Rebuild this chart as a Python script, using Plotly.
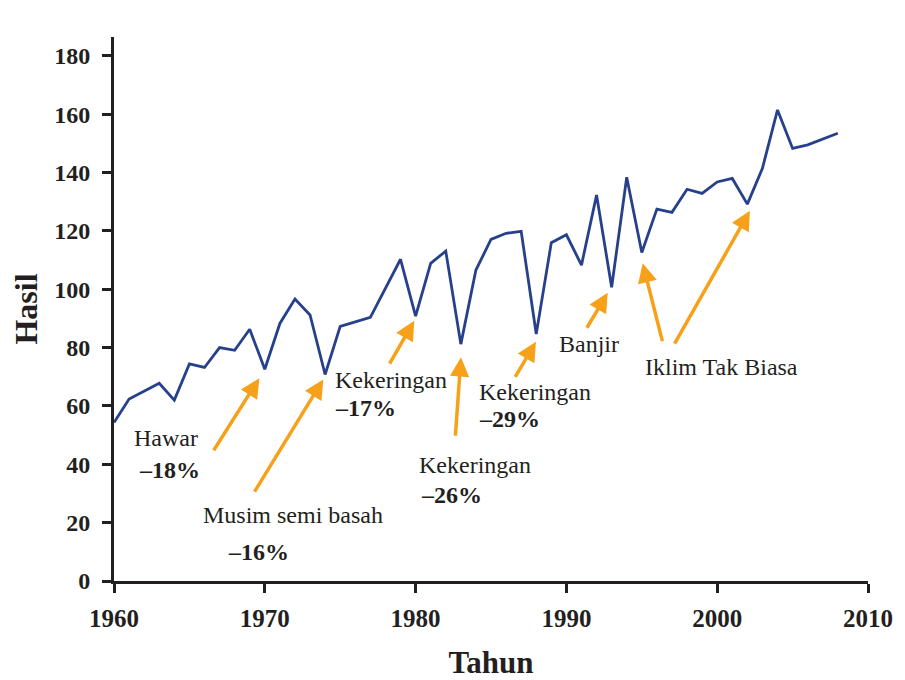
import plotly.graph_objects as go

# hasil per tahun
years = [1960, 1961, 1963, 1964, 1965, 1966, 1967, 1968, 1969, 1970,
         1971, 1972, 1973, 1974, 1975, 1977, 1979, 1980, 1981, 1982,
         1983, 1984, 1985, 1986, 1987, 1988, 1989, 1990, 1991, 1992,
         1993, 1994, 1995, 1996, 1997, 1998, 1999, 2000, 2001, 2002,
         2003, 2004, 2005, 2006, 2008]
yields = [54.3, 62.4, 67.8, 62.0, 74.4, 73.2, 80.0, 79.1, 86.3, 72.6,
          88.3, 96.7, 91.2, 70.8, 87.3, 90.4, 110.3, 90.8, 108.9, 113.1,
          81.2, 106.6, 117.1, 119.2, 119.9, 84.7, 116.0, 118.7, 108.3, 132.3,
          100.7, 138.4, 112.6, 127.5, 126.4, 134.3, 132.9, 136.8, 138.0, 129.2,
          141.5, 161.5, 148.3, 149.5, 153.5]

x_ticks = [1960, 1970, 1980, 1990, 2000, 2010]
y_ticks = [0, 20, 40, 60, 80, 100, 120, 140, 160, 180]

# label peristiwa: (teks, persen)
labels = [
    ('Hawar', '–18%'),
    ('Musim semi basah', '–16%'),
    ('Kekeringan', '–17%'),
    ('Kekeringan', '–26%'),
    ('Kekeringan', '–29%'),
    ('Banjir', None),
    ('Iklim Tak Biasa', None),
]
# posisi teks (tahun, nilai) untuk baris pertama dan kedua
label_pos = [
    ((1961.2, 49.0), (1961.5, 38.1)),
    ((1965.8, 22.6), (1967.4, 9.8)),
    ((1974.5, 68.9), (1974.5, 59.3)),
    ((1980.1, 39.8), (1980.2, 29.5)),
    ((1984.1, 64.9), (1984.1, 55.6)),
    ((1989.4, 81.1), None),
    ((1995.1, 73.5), None),
]
# panah: (ekor tahun, ekor nilai, kepala tahun, kepala nilai)
arrows = [
    (1966.55, 44.3, 1969.64, 69.5),
    (1969.26, 30.1, 1973.88, 69.1),
    (1978.22, 74.0, 1979.91, 89.2),
    (1982.63, 49.3, 1983.01, 76.7),
    (1986.55, 69.5, 1987.98, 82.0),
    (1991.30, 86.3, 1992.74, 98.8),
    (1996.39, 81.7, 1995.06, 108.9),
    (1997.12, 80.9, 2002.17, 126.9),
]

SERIF = 'Liberation Serif'
INK = '#231f20'
ORANGE = '#F7A11A'

fig = go.Figure()
fig.add_trace(go.Scatter(
    x=years, y=yields, mode='lines',
    line=dict(color='#27408B', width=2.8),
    hoverinfo='skip', showlegend=False))

for (name, pct), (p1, p2) in zip(labels, label_pos):
    fig.add_annotation(x=p1[0], y=p1[1], text=name, showarrow=False,
                       xanchor='left', yanchor='middle',
                       font=dict(family=SERIF, size=24, color=INK))
    if pct:
        fig.add_annotation(x=p2[0], y=p2[1], text='<b>' + pct + '</b>',
                           showarrow=False, xanchor='left', yanchor='middle',
                           font=dict(family=SERIF, size=24, color=INK))

for tx, ty, hx, hy in arrows:
    fig.add_annotation(x=hx, y=hy, ax=tx, ay=ty, xref='x', yref='y',
                       axref='x', ayref='y', text='', showarrow=True,
                       arrowhead=2, arrowsize=1.1, arrowwidth=3.5,
                       arrowcolor=ORANGE, standoff=0, startstandoff=0)

# body halaman punya margin 8 px, dikompensasi di sini
fig.update_layout(
    width=897, height=672,
    margin=dict(l=106, r=37, t=29, b=99),
    plot_bgcolor='white', paper_bgcolor='white',
    font=dict(family=SERIF, color=INK),
)
fig.update_xaxes(
    range=[1960, 2010], tickvals=x_ticks, showgrid=False, zeroline=False,
    showline=True, linecolor=INK, linewidth=3, automargin=False,
    ticks='outside', ticklen=9, tickwidth=3, tickcolor=INK,
    ticklabelstandoff=4,
    tickfont=dict(family=SERIF, size=25, color=INK, weight='bold'),
    title=dict(text='<b>Tahun</b>', standoff=30,
               font=dict(family=SERIF, size=31, color=INK)),
)
fig.update_yaxes(
    range=[0, 186.5], tickvals=y_ticks, showgrid=False, zeroline=False,
    showline=True, linecolor=INK, linewidth=3, automargin=False,
    ticks='outside', ticklen=9, tickwidth=3, tickcolor=INK,
    ticklabelstandoff=7,
    tickfont=dict(family=SERIF, size=24, color=INK, weight='bold'),
    title=dict(text='<b>Hasil</b>', standoff=38,
               font=dict(family=SERIF, size=32, color=INK)),
)

fig.write_html('out.html')
